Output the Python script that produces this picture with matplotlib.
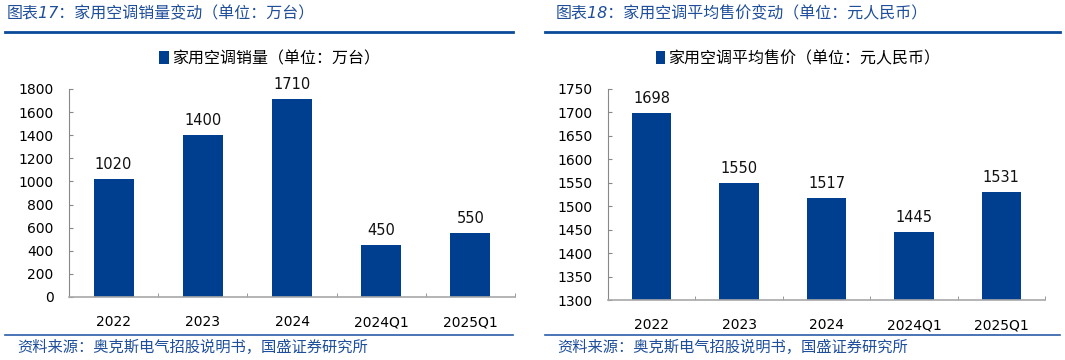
import matplotlib.pyplot as plt
from matplotlib.lines import Line2D

plt.rcParams['font.family'] = ['DejaVu Sans', 'Noto Sans CJK SC']

categories = ['2022', '2023', '2024', '2024Q1', '2025Q1']
sales = [1020, 1400, 1710, 450, 550]
prices = [1698, 1550, 1517, 1445, 1531]

title_left = '图表17：家用空调销量变动（单位：万台）'
title_right = '图表18：家用空调平均售价变动（单位：元人民币）'
legend_left = '家用空调销量（单位：万台）'
legend_right = '家用空调平均售价（单位：元人民币）'
source = '资料来源：奥克斯电气招股说明书，国盛证券研究所'

bar_color = '#003F8F'
text_blue = '#1F4E9A'
W, H = 1065, 360

fig = plt.figure(figsize=(W / 100, H / 100), dpi=100)


def fx(px):
    return px / W


def fy(py):
    return 1 - py / H


def panel(rect, values, ylim, yticks, legend_text, legend_x):
    ax = fig.add_axes(rect)
    x = list(range(len(categories)))
    ax.bar(x, [v - ylim[0] for v in values], bottom=ylim[0], width=0.45,
           color=bar_color, label=legend_text, zorder=2)
    for xi, v in zip(x, values):
        ax.annotate(str(v), (xi, v), xytext=(0, 5), textcoords='offset points',
                    ha='center', va='bottom', fontsize=10.5, color='#111111')
    ax.set_xlim(-0.5, len(categories) - 0.5)
    ax.set_ylim(*ylim)
    ax.set_yticks(yticks)
    ax.set_xticks(x)
    ax.set_xticklabels(categories)
    ax.set_xticks([i + 0.5 for i in x], minor=True)
    ax.tick_params(axis='x', which='major', length=0, pad=13, labelsize=10)
    ax.tick_params(axis='x', which='minor', direction='in', length=3,
                   color='#888888')
    ax.tick_params(axis='y', direction='in', length=3, pad=11, labelsize=10,
                   color='#888888')
    for s in ['top', 'right']:
        ax.spines[s].set_visible(False)
    ax.spines['left'].set_color('#888888')
    ax.spines['bottom'].set_color('#A8A8A8')
    ax.spines['bottom'].set_linewidth(1.2)
    ax.legend(loc='lower center', bbox_to_anchor=(legend_x, 1.04),
              frameon=False, fontsize=11.5, handlelength=0.6,
              handleheight=0.9, handletextpad=0.2)
    return ax


panel([fx(69), fy(297), fx(515 - 69), (297 - 89) / H], sales, (0, 1800),
      list(range(0, 1801, 200)), legend_left, 0.45)
panel([fx(608), fy(300), fx(1045 - 608), (300 - 89) / H], prices, (1300, 1750),
      list(range(1300, 1751, 50)), legend_right, 0.435)

# header titles and rules
fig.text(fx(7), fy(14), title_left, fontsize=11.5, color=text_blue,
         style='italic', va='center', ha='left')
fig.text(fx(556), fy(14), title_right, fontsize=11.5, color=text_blue,
         style='italic', va='center', ha='left')
for x0, x1 in [(5, 513), (545, 1060)]:
    fig.add_artist(Line2D([fx(x0), fx(x1)], [fy(32), fy(32)], color='#0B4A99',
                          linewidth=2))
    fig.add_artist(Line2D([fx(x0), fx(x1)], [fy(335), fy(335)], color='#2A5CA8',
                          linewidth=1.2))

fig.text(fx(17), fy(347), source, fontsize=11, color=text_blue,
         style='italic', va='center', ha='left')
fig.text(fx(557), fy(347), source, fontsize=11, color=text_blue,
         style='italic', va='center', ha='left')

fig.savefig('out.png', dpi=100)
